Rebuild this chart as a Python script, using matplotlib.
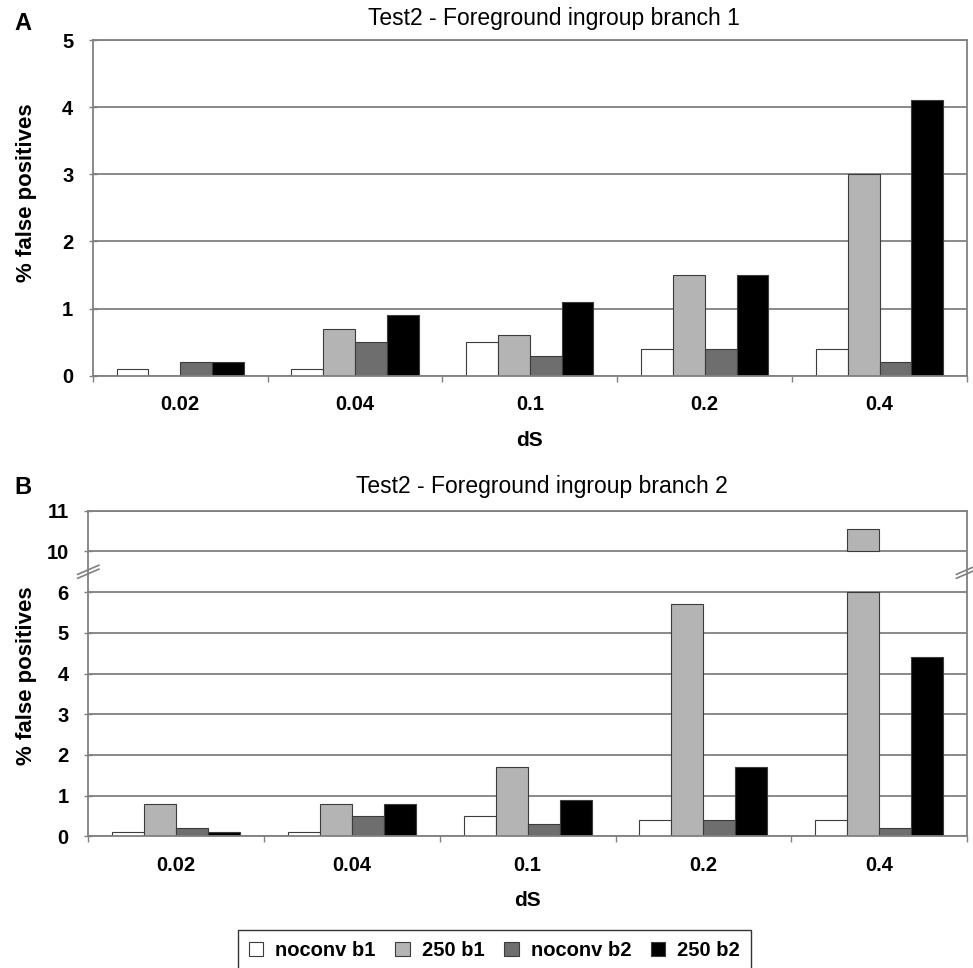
import matplotlib

matplotlib.use("Agg")
import matplotlib.pyplot as plt
import numpy as np

plt.rcParams["font.family"] = ["Liberation Sans", "DejaVu Sans"]

categories = ["0.02", "0.04", "0.1", "0.2", "0.4"]
series = ["noconv b1", "250 b1", "noconv b2", "250 b2"]
colors = ["#ffffff", "#b4b4b4", "#6e6e6e", "#000000"]

# panel A: Test2 - foreground ingroup branch 1
branch1 = [
    [0.1, 0.1, 0.5, 0.4, 0.4],
    [0.0, 0.7, 0.6, 1.5, 3.0],
    [0.2, 0.5, 0.3, 0.4, 0.2],
    [0.2, 0.9, 1.1, 1.5, 4.1],
]
# panel B: Test2 - foreground ingroup branch 2 (broken axis 6 -> 10)
branch2 = [
    [0.1, 0.1, 0.5, 0.4, 0.4],
    [0.8, 0.8, 1.7, 5.7, 10.55],
    [0.2, 0.5, 0.3, 0.4, 0.2],
    [0.1, 0.8, 0.9, 1.7, 4.4],
]

BREAK_LO, BREAK_HI = 6, 10
GRAY = "#808080"
EDGE = "#3c3c3c"
width = 1 / 5.5

fig = plt.figure(figsize=(9.73, 9.68), dpi=100)
ax_a = fig.add_axes([92.7 / 973, 1 - 375.7 / 968, (967 - 92.7) / 973, (375.7 - 40) / 968])
ax_b = fig.add_axes([88.3 / 973, 1 - 836.3 / 968, (967 - 88.3) / 973, (836.3 - 510.7) / 968])

x = np.arange(len(categories))


def style_axes(ax, ylab_x, ylab_y=0.5):
    ax.set_xlim(-0.5, len(categories) - 0.5)
    for side in ["left", "right", "top", "bottom"]:
        ax.spines[side].set_color(GRAY)
        ax.spines[side].set_linewidth(1.3)
    ax.yaxis.grid(True, color=GRAY, linewidth=1.3)
    ax.set_axisbelow(True)
    ax.set_xticks(x)
    ax.set_xticklabels(categories, fontsize=14.5, fontweight="bold")
    ax.tick_params(axis="x", which="major", length=0, pad=14)
    ax.set_xticks(np.arange(-0.5, len(categories)), minor=True)
    ax.tick_params(axis="x", which="minor", length=4, color=GRAY, width=1)
    ax.tick_params(axis="y", direction="inout", length=6, color=GRAY, width=1,
                   labelsize=14.5, pad=11)
    for lbl in ax.get_yticklabels():
        lbl.set_fontweight("bold")
    ax.set_xlabel("dS", fontsize=15, fontweight="bold", labelpad=12)
    ax.set_ylabel("% false positives", fontsize=16, fontweight="bold")
    ax.yaxis.set_label_coords(ylab_x, ylab_y)


# panel A
for i, (name, vals) in enumerate(zip(series, branch1)):
    ax_a.bar(x + (i - 1.5) * width, vals, width, color=colors[i], edgecolor=EDGE,
             linewidth=0.8, label=name)
ax_a.set_ylim(0, 5)
ax_a.set_yticks(range(6))
style_axes(ax_a, -(92.7 - 37) / (967 - 92.7), (375.7 - 193) / (375.7 - 40))

# panel B with a broken y axis: 0..6 shown as is, 10..11 shown at 7..8
shift = BREAK_HI - BREAK_LO - 1
handles = []
for i, (name, vals) in enumerate(zip(series, branch2)):
    vals = np.array(vals)
    lower = np.minimum(vals, BREAK_LO)
    h = ax_b.bar(x + (i - 1.5) * width, lower, width, color=colors[i], edgecolor=EDGE,
                 linewidth=0.8, label=name)
    handles.append(h)
    high = vals > BREAK_HI
    if high.any():
        ax_b.bar((x + (i - 1.5) * width)[high], vals[high] - BREAK_HI, width,
                 bottom=BREAK_HI - shift, color=colors[i], edgecolor=EDGE, linewidth=0.8)
ax_b.set_ylim(0, 11 - shift)
ticks_b = [0, 1, 2, 3, 4, 5, 6, 10, 11]
ax_b.set_yticks([t if t <= BREAK_LO else t - shift for t in ticks_b])
ax_b.set_yticklabels([str(t) for t in ticks_b])
style_axes(ax_b, -(88.3 - 37) / (967 - 88.3), (836.3 - 676) / (836.3 - 510.7))

# break marks on both spines
ymid = (BREAK_LO + 0.5) / (11 - shift)
for xs in (0, 1):
    for dy in (-0.006, 0.006):
        ax_b.plot([xs - 0.012, xs + 0.012], [ymid - 0.014 + dy, ymid + 0.014 + dy],
                  transform=ax_b.transAxes, color=GRAY, linewidth=1.2, clip_on=False)

fig.text(554 / 973, 1 - 18 / 968, "Test2 - Foreground ingroup branch 1", ha="center",
         va="center", fontsize=16.5)
fig.text(542 / 973, 1 - 487 / 968, "Test2 - Foreground ingroup branch 2", ha="center",
         va="center", fontsize=16.5)
fig.text(14 / 973, 1 - 24 / 968, "A", fontsize=17, fontweight="bold", va="center")
fig.text(14 / 973, 1 - 488 / 968, "B", fontsize=17, fontweight="bold", va="center")

leg = fig.legend(handles=handles, labels=series, loc="upper left", ncol=4,
                 bbox_to_anchor=(237.7 / 973, 1 - 930 / 968), frameon=True, fancybox=False,
                 edgecolor="#000000", prop={"weight": "bold", "size": 14.5},
                 handlelength=0.7, handleheight=0.7, handletextpad=0.6,
                 columnspacing=1.0, borderpad=0.55, borderaxespad=0)
leg.get_frame().set_linewidth(1.0)

fig.savefig("out.png", dpi=100)
plt.close(fig)
